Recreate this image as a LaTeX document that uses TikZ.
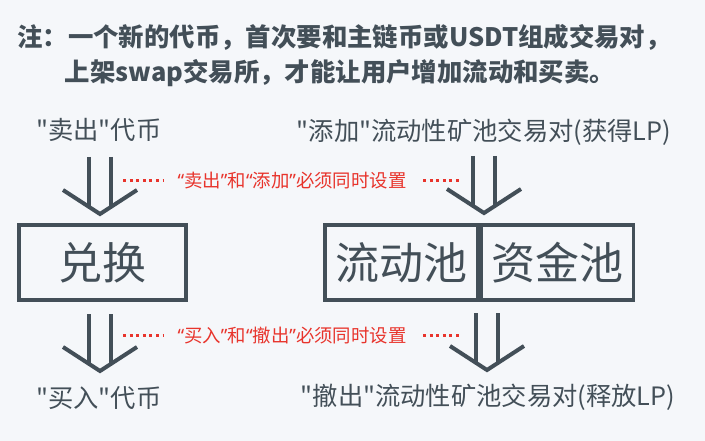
\documentclass[tikz,border=0pt]{standalone}
\usepackage{fontspec}
\setmainfont{Noto Sans CJK SC}
\newfontfamily\cjk{Noto Sans CJK SC}
\newfontfamily\latin{Noto Sans}
\usetikzlibrary{positioning}
\definecolor{bgcol}{HTML}{F5F7FA}
\definecolor{ink}{HTML}{434F58}
\definecolor{notered}{HTML}{E8342C}

\tikzset{
  label text/.style={inner sep=0pt, text=ink, font=\cjk\fontsize{25.3}{28}\selectfont},
  head text/.style={inner sep=0pt, text=ink, font=\cjk\bfseries\fontsize{25.4}{28}\selectfont},
  box/.style={draw=ink, line width=3.5pt, inner sep=0pt, minimum height=75pt,
              text=ink, font=\cjk\fontsize{44}{48}\selectfont},
  arrow line/.style={draw=ink, line width=4pt},
  note/.style={inner sep=0pt, text=notered, font=\cjk\fontsize{18.4}{21}\selectfont},
  dots/.style={draw=notered, line width=3pt, dash pattern=on 3pt off 3.6pt}
}

% narrow quotes for the red notes
\newcommand{\noteopen}{{\latin“}}
\newcommand{\noteclose}{{\latin”}}

% double shaft arrow, #1 = tip
\newcommand{\dblarrow}[1]{%
  \draw[arrow line] (#1) ++(-11,-57) -- ++(0,50);
  \draw[arrow line] (#1) ++(11,-57) -- ++(0,50);
  \draw[arrow line] (#1) ++(-37,-24) -- (#1) -- ++(37,-24);
}

\begin{document}
\begin{tikzpicture}[x=1pt, y=-1pt]
        \fill[bgcol] (0,0) rectangle (705,441);
        \useasboundingbox (0,0) rectangle (705,441);

        % heading
        \node (title1)[head text] at (344,37) {注：一个新的代币，首次要和主链币或USDT组成交易对，};
        \node (title2)[head text] at (340,73) {上架swap交易所，才能让用户增加流动和买卖。};

        % labels
        \node (sell)[label text] at (99,130) {"卖出"代币};
        \node (add)[label text] at (484,132) {"添加"流动性矿池交易对(获得LP)};
        \node (buy)[label text] at (99,398) {"买入"代币};
        \node (remove)[label text] at (488,397) {"撤出"流动性矿池交易对(释放LP)};

        % boxes
        \node (swap)[box, minimum width=167pt] at (102.5,262.5) {兑换};
        \node (pool)[box, minimum width=153pt] at (401.5,262.5) {流动池};
        \node (reserve)[box, minimum width=152pt, right=0pt of pool] {资金池};

        % arrows
        \coordinate (sellTip) at (100,214);
        \coordinate (addTip) at (484,213);
        \coordinate (buyTip) at (100,371);
        \coordinate (removeTip) at (487,370);
        \dblarrow{sellTip}
        \dblarrow{addTip}
        \dblarrow{buyTip}
        \dblarrow{removeTip}

        % notes
        \node (note1)[note] at (292,181) {\noteopen 卖出\noteclose 和\noteopen 添加\noteclose 必须同时设置};
        \node (note2)[note] at (292,335) {\noteopen 买入\noteclose 和\noteopen 撤出\noteclose 必须同时设置};
        \draw[dots] (123,181) -- (163,181);
        \draw[dots] (423,181) -- (461,181);
        \draw[dots] (123,335) -- (163,335);
        \draw[dots] (423,335) -- (461,335);
    \end{tikzpicture}
\end{document}
